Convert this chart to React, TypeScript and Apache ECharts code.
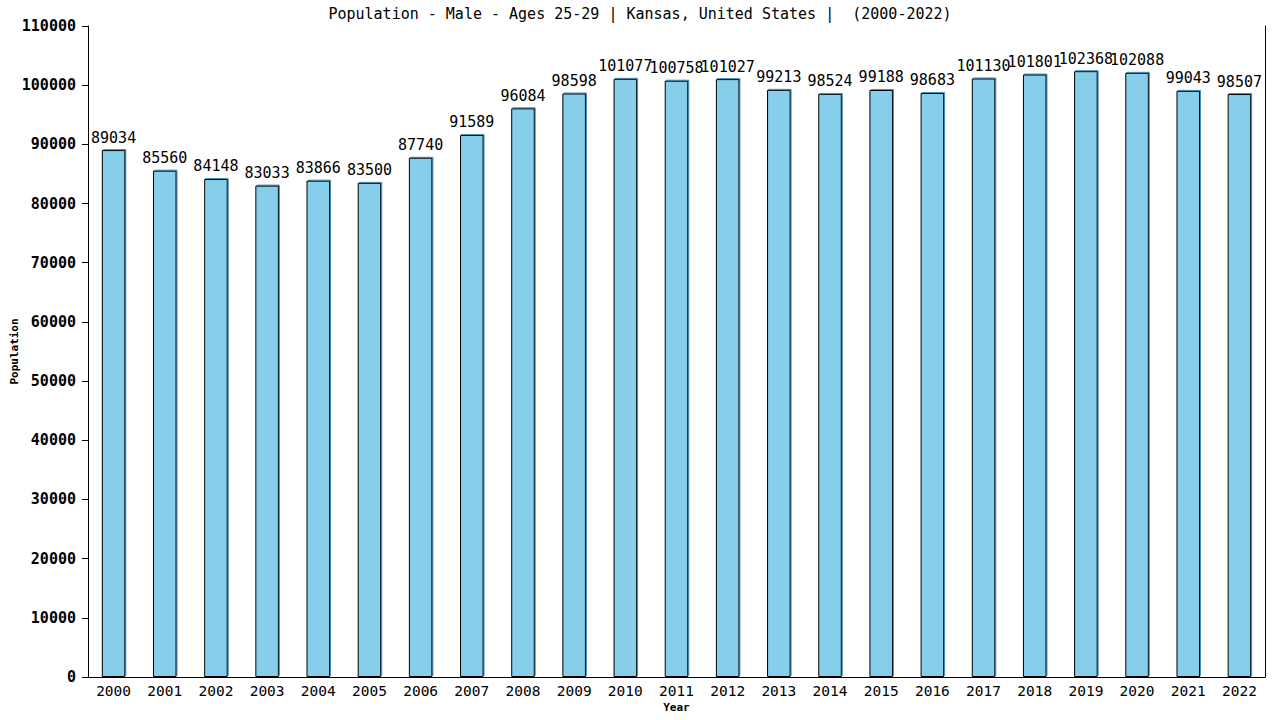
import { useEffect, useRef } from "react";
import * as echarts from "echarts";

const YEARS = [
  "2000", "2001", "2002", "2003", "2004", "2005", "2006", "2007", "2008", "2009", "2010", "2011",
  "2012", "2013", "2014", "2015", "2016", "2017", "2018", "2019", "2020", "2021", "2022",
];
const POPULATION = [
  89034, 85560, 84148, 83033, 83866, 83500, 87740, 91589, 96084, 98598, 101077, 100758,
  101027, 99213, 98524, 99188, 98683, 101130, 101801, 102368, 102088, 99043, 98507,
];
const TITLE = "Population - Male - Ages 25-29 | Kansas, United States |  (2000-2022)";

const MONO = "'DejaVu Sans Mono', monospace";

export default function App() {
  const chartRef = useRef<HTMLDivElement>(null);

  useEffect(() => {
    document.body.style.margin = "0";
    if (!chartRef.current) return;
    const chart = echarts.init(chartRef.current, undefined, { renderer: "svg" });

    const option: echarts.EChartsOption = {
      animation: false,
      backgroundColor: "#ffffff",
      title: {
        text: TITLE,
        left: "center",
        top: 1,
        textStyle: { fontFamily: MONO, fontSize: 15, fontWeight: "normal", color: "#000" },
      },
      grid: { left: 88, right: 15, top: 26, bottom: 43, outerBoundsMode: "none" } as any,
      xAxis: {
        type: "category",
        data: YEARS,
        name: "Year",
        nameLocation: "middle",
        nameGap: 25,
        nameMoveOverlap: false,
        nameTextStyle: { fontFamily: MONO, fontSize: 11, fontWeight: "bold", color: "#000" },
        axisLine: { lineStyle: { color: "#000", width: 1 } },
        axisTick: { show: false },
        axisLabel: { fontFamily: MONO, fontSize: 14.5, color: "#000", margin: 6 },
      } as any,
      yAxis: [
        {
          type: "value",
          min: 0,
          max: 110000,
          interval: 10000,
          name: "Population",
          nameLocation: "middle",
          nameGap: 68,
          nameMoveOverlap: false,
          nameTextStyle: { fontFamily: MONO, fontSize: 11, fontWeight: "bold", color: "#000" },
          axisLine: { show: true, lineStyle: { color: "#000", width: 1 } },
          axisTick: { show: true, length: 6, lineStyle: { color: "#000" } },
          axisLabel: {
            fontFamily: MONO,
            fontSize: 15,
            fontWeight: "bold",
            color: "#000",
            margin: 12,
            formatter: (v: number) => String(v),
          },
          splitLine: { show: false },
        } as any,
        {
          type: "value",
          position: "right",
          min: 0,
          max: 110000,
          interval: 10000,
          axisLine: { show: true, lineStyle: { color: "#000", width: 1 } },
          axisTick: { show: false },
          axisLabel: { show: false },
          splitLine: { show: false },
        },
      ],
      series: [
        {
          type: "bar",
          data: POPULATION,
          barWidth: "46%",
          itemStyle: {
            color: "#87ceeb",
            borderColor: "#000",
            borderWidth: 1,
            shadowColor: "#4f8fb5",
            shadowOffsetX: 1,
            shadowOffsetY: -1,
            shadowBlur: 0,
          },
          label: {
            show: true,
            position: "top",
            distance: 5,
            fontFamily: MONO,
            fontSize: 15,
            color: "#000",
          },
        },
      ],
    };

    chart.setOption(option);
    return () => chart.dispose();
  }, []);

  return <div ref={chartRef} style={{ width: 1280, height: 720 }} />;
}
